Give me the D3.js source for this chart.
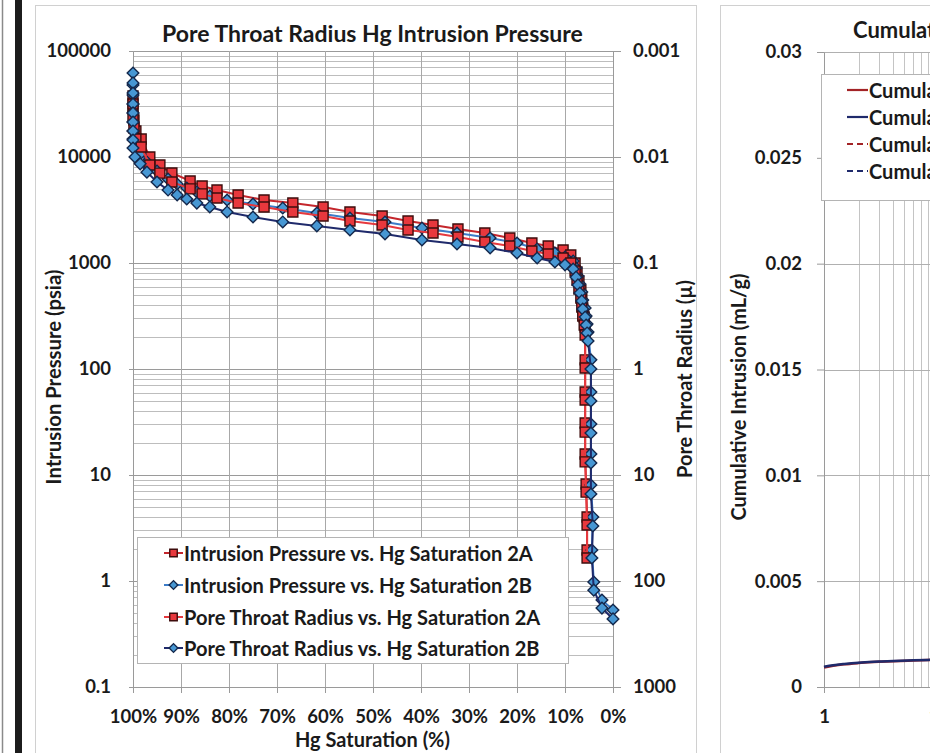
<!DOCTYPE html>
<html><head><meta charset="utf-8">
<script src="https://cdn.jsdelivr.net/npm/d3@7"></script>
<style>
body{margin:0;background:#fff}
svg{display:block}
</style>
</head><body>
<svg id="c" width="930" height="753"></svg>
<script>
// ---------------- DATA (left chart) ----------------
const satTicks = [100, 90, 80, 70, 60, 50, 40, 30, 20, 10, 0];
const satLabels = ["100%", "90%", "80%", "70%", "60%", "50%", "40%", "30%", "20%", "10%", "0%"];
const pressTicks = [0.1, 1, 10, 100, 1000, 10000, 100000];
const pressLabels = ["0.1", "1", "10", "100", "1000", "10000", "100000"];
const radiusTicks = [1000, 100, 10, 1, 0.1, 0.01, 0.001];
const radiusLabels = ["1000", "100", "10", "1", "0.1", "0.01", "0.001"];

// Sample 2A: Hg saturation (%)
const sat2A = [100, 100, 99.8, 99.4, 98.3, 96.5, 94.4, 91.9, 88.1, 85.6, 82.5, 78.1, 72.7, 66.7, 60.4,
  54.8, 48.1, 42.7, 37.5, 32.3, 26.7, 21.5, 16.9, 13.5, 10.4, 8.8, 7.9, 7.5, 7.1, 6.7, 6.5, 6.3, 6.0,
  5.8, 5.8, 5.8, 5.8, 5.8, 5.6, 5.4, 5.4];
// Intrusion pressure 2A (psia)
const press2A = [37600, 29000, 22350, 17590, 14780, 10000, 8404, 7065, 5936, 5325, 4883, 4380, 3929,
  3681, 3376, 3028, 2776, 2490, 2283, 2093, 1919, 1721, 1544, 1447, 1327, 1190, 1000, 823, 677, 556,
  458, 376, 309, 249, 122, 60.7, 30.9, 15.8, 8.22, 4.02, 1.96];
// Pore throat radius 2A (micron)
const radius2A = [0.00316, 0.00410, 0.00532, 0.00677, 0.00805, 0.0119, 0.0142, 0.0172, 0.0200, 0.0223,
  0.0244, 0.0272, 0.0296, 0.0330, 0.0360, 0.0402, 0.0438, 0.0488, 0.0521, 0.0568, 0.0634, 0.0691,
  0.0770, 0.0822, 0.0897, 0.100, 0.119, 0.145, 0.176, 0.214, 0.260, 0.316, 0.385, 0.478, 0.98, 1.96,
  3.94, 7.52, 14.5, 29.6, 60.6];

// Sample 2B: Hg saturation (%)
const sat2B = [100, 100, 100, 100, 100, 100, 100, 100, 99.6, 98.5, 97.1, 95.0, 92.7, 90.8, 88.8, 86.7,
  84.0, 80.4, 75.0, 68.8, 61.7, 54.8, 47.5, 39.8, 32.5, 25.6, 20.0, 15.8, 12.1, 10.0, 8.3, 7.7, 7.3,
  6.9, 6.5, 6.3, 5.8, 5.6, 5.4, 5.2, 4.6, 4.6, 4.6, 4.6, 4.6, 4.2, 4.4, 4.0, 2.3, 0.0];
// Intrusion pressure 2B (psia)
const press2B = [62000, 47770, 38450, 31623, 26010, 21390, 17590, 14780, 12430, 10670, 8971, 7379, 6201,
  5562, 5099, 4674, 4286, 3929, 3603, 3303, 2963, 2657, 2437, 2139, 1919, 1721, 1544, 1356, 1243, 1139,
  1044, 897, 754, 634, 532, 448, 376, 316, 266, 223, 122, 60.7, 30.3, 15.8, 8.05, 4.02, 1.96, 0.979,
  0.662, 0.533];
// Pore throat radius 2B (micron)
const radius2B = [0.00200, 0.00249, 0.00316, 0.00384, 0.00468, 0.00569, 0.00691, 0.00822, 0.0100,
  0.0116, 0.0139, 0.0172, 0.0205, 0.0228, 0.0249, 0.0272, 0.0296, 0.0330, 0.0368, 0.0410, 0.0447,
  0.0488, 0.0532, 0.0607, 0.0662, 0.0722, 0.0805, 0.0897, 0.0978, 0.104, 0.114, 0.136, 0.161, 0.192,
  0.228, 0.272, 0.324, 0.385, 0.457, 0.543, 1.00, 2.00, 4.02, 7.69, 15.1, 30.3, 60.6, 122, 180, 228];

const legendNames = [
  "Intrusion Pressure vs. Hg Saturation 2A",
  "Intrusion Pressure vs. Hg Saturation 2B",
  "Pore Throat Radius vs. Hg Saturation 2A",
  "Pore Throat Radius vs. Hg Saturation 2B"];

// ---------------- DATA (right, partially visible chart) ----------------
const cumTicksY = [0, 0.005, 0.01, 0.015, 0.02, 0.025, 0.03];
const cumLabelsY = ["0", "0.005", "0.01", "0.015", "0.02", "0.025", "0.03"];
const cumTicksX = [1, 10];
const cumLabelsX = ["1", "10"];
const cumX = [1, 1.2, 1.5, 2, 3, 4, 6, 8, 10];
const cum2A = [0.00092, 0.00100, 0.00107, 0.00113, 0.00119, 0.00122, 0.00125, 0.00127, 0.00128];
const cum2B = [0.00096, 0.00103, 0.00109, 0.00115, 0.00120, 0.00123, 0.00126, 0.00128, 0.00129];
const cumLegendNames = [
  "Cumulative Intrusion 2A",
  "Cumulative Intrusion 2B",
  "Cumulative Pore Volume 2A",
  "Cumulative Pore Volume 2B"];

// ---------------- DRAW ----------------
const FONT = "Lato, 'Open Sans', sans-serif";
const INK = "#1a1a1a";
const svg = d3.select("#c");
svg.append("rect").attr("width", 930).attr("height", 753).attr("fill", "#fff");

function fitWidth(sel, target) {
  const w = sel.node().getComputedTextLength();
  const fs = parseFloat(sel.attr("font-size"));
  const nfs = fs * target / w;
  sel.attr("font-size", nfs);
  return nfs;
}

// page edge decorations
svg.append("line").attr("x1", 2.5).attr("x2", 2.5).attr("y1", 0).attr("y2", 753)
  .attr("stroke", "#8a8a8a").attr("stroke-width", 1.5);
svg.append("rect").attr("x", 15).attr("y", 0).attr("width", 7).attr("height", 753).attr("fill", "#1c1c1c");
// chart area frames
svg.append("rect").attr("x", 35.5).attr("y", 5.5).attr("width", 661).attr("height", 770)
  .attr("fill", "none").attr("stroke", "#d0d0d0");
svg.append("rect").attr("x", 720.5).attr("y", 5.5).attr("width", 300).attr("height", 770)
  .attr("fill", "none").attr("stroke", "#d0d0d0");

const P = {left: 133, right: 613, top: 51, bottom: 687};
const x = d3.scaleLinear().domain([100, 0]).range([P.left, P.right]);
const yP = d3.scaleLog().domain([0.1, 100000]).range([P.bottom, P.top]);
const yR = d3.scaleLog().domain([1000, 0.001]).range([P.bottom, P.top]);

const left = svg.append("g");
const px = v => Math.round(v) + 0.5;

// horizontal log gridlines
left.append("g").selectAll("line").data(yP.ticks()).join("line")
  .attr("x1", P.left).attr("x2", P.right)
  .attr("y1", d => px(yP(d))).attr("y2", d => px(yP(d)))
  .attr("stroke", d => pressTicks.includes(d) ? "#9a9a9a" : "#bdbdbd").attr("stroke-width", 1);
// vertical gridlines
left.append("g").selectAll("line").data(satTicks).join("line")
  .attr("x1", d => px(x(d))).attr("x2", d => px(x(d)))
  .attr("y1", P.top).attr("y2", P.bottom)
  .attr("stroke", "#a8a8a8").attr("stroke-width", 1);

function styleAxis(sel, size) {
  sel.attr("font-family", FONT).attr("font-size", size).attr("font-weight", 700);
  sel.select(".domain").attr("stroke", "#9a9a9a");
  sel.selectAll(".tick line").attr("stroke", "#9a9a9a");
  sel.selectAll(".tick text").attr("fill", INK);
}

left.append("g").attr("transform", `translate(${P.left},0)`)
  .call(d3.axisLeft(yP).tickValues(pressTicks).tickFormat((d, i) => pressLabels[i])
    .tickSizeInner(4).tickSizeOuter(0).tickPadding(18))
  .call(s => styleAxis(s, 18.5));
left.append("g").attr("transform", `translate(${P.right},0)`)
  .call(d3.axisRight(yR).tickValues(radiusTicks).tickFormat((d, i) => radiusLabels[i])
    .tickSizeInner(8).tickSizeOuter(0).tickPadding(12))
  .call(s => styleAxis(s, 18.5));
left.append("g").attr("transform", `translate(0,${P.bottom})`)
  .call(d3.axisBottom(x).tickValues(satTicks).tickFormat((d, i) => satLabels[i])
    .tickSizeInner(6).tickSizeOuter(0).tickPadding(17))
  .call(s => styleAxis(s, 18.5));

function label(parent, attrs, txt, size) {
  const t = parent.append("text").attr("font-family", FONT).attr("font-size", size)
    .attr("font-weight", 700).attr("fill", INK).text(txt);
  Object.entries(attrs).forEach(([k, v]) => t.attr(k, v));
  return t;
}

// titles
fitWidth(label(left, {x: 372.5, y: 42, "text-anchor": "middle"},
  "Pore Throat Radius Hg Intrusion Pressure", 21), 421);
fitWidth(label(left, {x: 372.5, y: 747, "text-anchor": "middle"}, "Hg Saturation (%)", 17), 155);
fitWidth(label(left, {transform: "translate(53,377) rotate(-90)", "text-anchor": "middle",
  "dominant-baseline": "central"}, "Intrusion Pressure (psia)", 17), 215);
fitWidth(label(left, {transform: "translate(684,379) rotate(-90)", "text-anchor": "middle",
  "dominant-baseline": "central"}, "Pore Throat Radius (\u00b5)", 17), 198);

// series
const sqFill = "#e8383d", sqStroke = "#3d0c0c";
const dmFill = "#4797d3", dmStroke = "#14284c";
const series = [
  {sat: sat2A, val: press2A, y: yP, line: "#c4262c", marker: "square"},
  {sat: sat2B, val: press2B, y: yP, line: "#3c7cc8", marker: "diamond"},
  {sat: sat2A, val: radius2A, y: yR, line: "#e6393e", marker: "square"},
  {sat: sat2B, val: radius2B, y: yR, line: "#1f2a6b", marker: "diamond"}
];
const sqPath = d3.symbol().type(d3.symbolSquare).size(100)();
const dmPath = d3.symbol().type(d3.symbolSquare).size(68)();

function drawMarker(sel, type, scale) {
  sel.append("path")
    .attr("d", type === "square" ? sqPath : dmPath)
    .attr("transform", type === "square" ? `scale(${scale})` : `rotate(45) scale(${scale})`)
    .attr("fill", type === "square" ? sqFill : dmFill)
    .attr("stroke", type === "square" ? sqStroke : dmStroke)
    .attr("stroke-width", 1.4 / scale);
}

series.forEach(s => {
  const pts = s.sat.map((v, i) => ({s: v, v: s.val[i]}));
  const gS = left.append("g");
  gS.append("path").datum(pts)
    .attr("d", d3.line().x(d => x(d.s)).y(d => s.y(d.v)))
    .attr("fill", "none").attr("stroke", s.line).attr("stroke-width", 2);
  gS.selectAll("g.m").data(pts).join("g").attr("class", "m")
    .attr("transform", d => `translate(${x(d.s)},${s.y(d.v)})`)
    .each(function () { drawMarker(d3.select(this), s.marker, 1); });
});

// legend
const leg = left.append("g");
leg.append("rect").attr("x", 137.5).attr("y", 537.5).attr("width", 431).attr("height", 126)
  .attr("fill", "#fff").attr("stroke", "#b4b4b4");
const legY = [553, 585, 617, 648];
let legSize = 17;
series.forEach((s, i) => {
  const r = leg.append("g").attr("transform", `translate(0,${legY[i]})`);
  r.append("line").attr("x1", 164).attr("x2", 183).attr("stroke", s.line).attr("stroke-width", 2);
  const m = r.append("g").attr("transform", "translate(173.5,0)");
  drawMarker(m, s.marker, 0.75);
  const t = label(r, {x: 184, y: 0, "dominant-baseline": "central"}, legendNames[i], legSize);
  if (i === 0) legSize = fitWidth(t, 349);
});

// ---------------- right (cut-off) chart ----------------
const R = {left: 824, top: 52, bottom: 687};
const xc = d3.scaleLog().domain([1, 1000]).range([R.left, R.left + 3 * 115]);
const yc = d3.scaleLinear().domain([0, 0.03]).range([R.bottom, R.top]);
const right = svg.append("g");
right.append("g").selectAll("line").data(xc.ticks()).join("line")
  .attr("x1", d => px(xc(d))).attr("x2", d => px(xc(d))).attr("y1", R.top).attr("y2", R.bottom)
  .attr("stroke", "#c4c4c4");
right.append("g").selectAll("line").data(cumTicksY).join("line")
  .attr("x1", R.left).attr("x2", 1200).attr("y1", d => px(yc(d))).attr("y2", d => px(yc(d)))
  .attr("stroke", "#b0b0b0");
right.append("g").attr("transform", `translate(${R.left},0)`)
  .call(d3.axisLeft(yc).tickValues(cumTicksY).tickFormat((d, i) => cumLabelsY[i])
    .tickSizeInner(7).tickSizeOuter(0).tickPadding(15))
  .call(s => styleAxis(s, 18.5));
right.append("g").attr("transform", `translate(0,${R.bottom})`)
  .call(d3.axisBottom(xc).tickValues(cumTicksX).tickFormat((d, i) => cumLabelsX[i])
    .tickSizeInner(6).tickSizeOuter(0).tickPadding(17))
  .call(s => styleAxis(s, 18.5));
const titleSize = +left.select("text").attr("font-size");
label(right, {x: 853, y: 38}, "Cumulative Intrusion", 22);
fitWidth(label(right, {transform: "translate(738,397) rotate(-90)", "text-anchor": "middle",
  "dominant-baseline": "central"}, "Cumulative Intrusion (mL/g)", 17), 247);

const cumSeries = [
  {val: cum2A, color: "#a32326", dash: null},
  {val: cum2B, color: "#1f2a6b", dash: null},
  {val: null, color: "#a32326", dash: "6,4"},
  {val: null, color: "#1f2a6b", dash: "6,4"}
];
cumSeries.forEach(s => {
  if (!s.val) return;
  const pts = cumX.map((v, i) => ({x: v, y: s.val[i]}));
  right.append("path").datum(pts).attr("d", d3.line().x(d => xc(d.x)).y(d => yc(d.y)).curve(d3.curveMonotoneX))
    .attr("fill", "none").attr("stroke", s.color).attr("stroke-width", 2.5);
});
const leg2 = right.append("g");
leg2.append("rect").attr("x", 821.5).attr("y", 74.5).attr("width", 300).attr("height", 126)
  .attr("fill", "#fff").attr("stroke", "#b4b4b4");
const leg2Y = [90, 117, 144, 171];
cumSeries.forEach((s, i) => {
  const r = leg2.append("g").attr("transform", `translate(0,${leg2Y[i]})`);
  r.append("line").attr("x1", 847).attr("x2", 868).attr("stroke", s.color).attr("stroke-width", 2.2)
    .attr("stroke-dasharray", s.dash);
  label(r, {x: 869, y: 0, "dominant-baseline": "central"}, cumLegendNames[i], legSize);
});
</script>
</body></html>
